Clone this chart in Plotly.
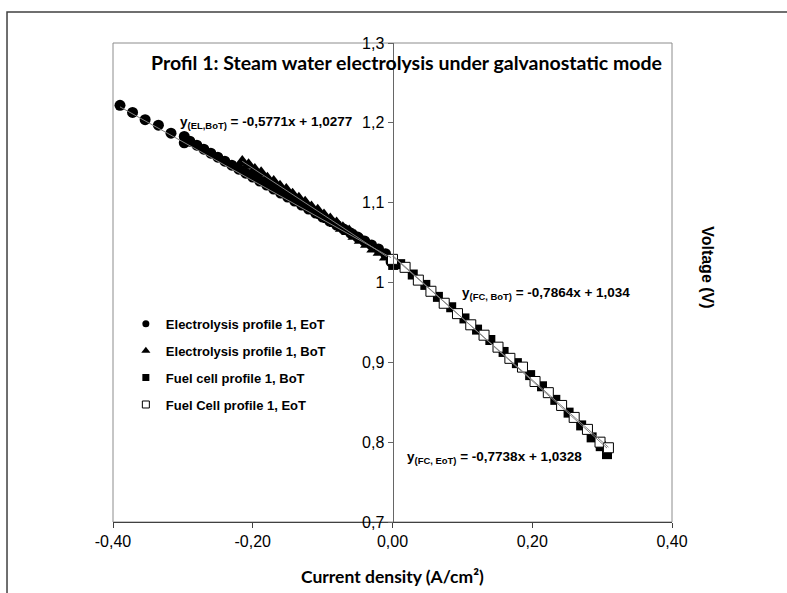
import plotly.graph_objects as go

# ---- measured polarisation data (current density A/cm², voltage V) ----
# Electrolysis profile 1, end of test (circles)
el_eot_x = [-0.390, -0.372, -0.354, -0.335, -0.317, -0.298, -0.298,
            -0.290, -0.280, -0.270, -0.260, -0.250, -0.240, -0.230, -0.220,
            -0.210, -0.200, -0.190, -0.180, -0.170, -0.160, -0.150, -0.140,
            -0.130, -0.120, -0.110, -0.100, -0.090, -0.080, -0.070, -0.060,
            -0.050, -0.040, -0.030, -0.020, -0.010, -0.002]
el_eot_y = [1.222, 1.213, 1.204, 1.197, 1.187, 1.183, 1.175,
            1.177, 1.172, 1.167, 1.162, 1.157, 1.152, 1.147, 1.142,
            1.137, 1.132, 1.127, 1.122, 1.117, 1.112, 1.107, 1.102,
            1.097, 1.092, 1.087, 1.082, 1.077, 1.072, 1.067, 1.062,
            1.057, 1.052, 1.047, 1.042, 1.036, 1.026]

# Electrolysis profile 1, beginning of test (triangles)
el_bot_x = [-0.215, -0.206, -0.197, -0.188, -0.179, -0.170, -0.161, -0.152,
            -0.143, -0.134, -0.125, -0.116, -0.107, -0.098, -0.089, -0.080,
            -0.071, -0.062, -0.053, -0.044, -0.035, -0.026, -0.017, -0.008]
el_bot_y = [1.151, 1.147, 1.141, 1.137, 1.130, 1.126, 1.120, 1.116,
            1.110, 1.105, 1.100, 1.094, 1.090, 1.084, 1.079, 1.074,
            1.068, 1.064, 1.058, 1.053, 1.048, 1.042, 1.038, 1.032]

# Fuel cell profile 1, beginning of test (filled squares)
fc_bot_x = [0.001, 0.011, 0.029, 0.047, 0.065, 0.084, 0.103, 0.121, 0.140,
            0.159, 0.178, 0.197, 0.214, 0.233, 0.252, 0.270, 0.285, 0.298, 0.307]
fc_bot_y = [1.022, 1.023, 1.010, 0.997, 0.982, 0.969, 0.955, 0.941, 0.928,
            0.913, 0.899, 0.884, 0.870, 0.853, 0.837, 0.821, 0.806, 0.795, 0.785]

# Fuel cell profile 1, end of test (open squares)
fc_eot_x = [0.000, 0.018, 0.037, 0.055, 0.074, 0.093, 0.112, 0.131, 0.151,
            0.168, 0.186, 0.204, 0.223, 0.242, 0.260, 0.279, 0.297, 0.309]
fc_eot_y = [1.029, 1.019, 1.003, 0.989, 0.974, 0.961, 0.947, 0.934, 0.919,
            0.905, 0.894, 0.876, 0.862, 0.846, 0.831, 0.816, 0.800, 0.793]

# linear fits (slope, intercept)
el_eot_fit = (-0.4867, 1.0302)
el_bot_fit = (-0.5771, 1.0277)
fc_bot_fit = (-0.7864, 1.034)
fc_eot_fit = (-0.7738, 1.0328)

series_names = ["Electrolysis profile 1, EoT", "Electrolysis profile 1, BoT",
                "Fuel cell profile 1, BoT", "Fuel Cell profile 1, EoT"]

x_tickvals = [-0.4, -0.2, 0.0, 0.2, 0.4]
x_ticktext = ["-0,40", "-0,20", "0,00", "0,20", "0,40"]
y_tickvals = [0.7, 0.8, 0.9, 1.0, 1.1, 1.2, 1.3]
y_ticktext = ["0,7", "0,8", "0,9", "1", "1,1", "1,2", "1,3"]

ARIAL = "Arial"


def fmt(v, nd):
    return f"{v:.{nd}f}".replace(".", ",")


def eq_text(label, fit, nd):
    s, b = fit
    return (f"<b>y<sub>{label}</sub> = {fmt(s, 4)}x + {fmt(b, nd)}</b>")


fig = go.Figure()

styles = [
    (el_eot_x, el_eot_y, dict(symbol="circle", size=11, color="black")),
    (el_bot_x, el_bot_y, dict(symbol="triangle-up", size=14, color="black")),
    (fc_bot_x, fc_bot_y, dict(symbol="square", size=10, color="black")),
    (fc_eot_x, fc_eot_y, dict(symbol="square", size=10, color="white",
                              line=dict(color="black", width=1))),
]
for (xs, ys, mk) in styles:
    fig.add_trace(go.Scatter(x=xs, y=ys, mode="markers", marker=mk,
                             showlegend=False, hoverinfo="skip"))

# trendlines drawn over the markers
for xs, fit in [(el_eot_x, el_eot_fit), (el_bot_x, el_bot_fit),
                (fc_bot_x, fc_bot_fit), (fc_eot_x, fc_eot_fit)]:
    x0, x1 = min(xs), max(xs)
    fig.add_trace(go.Scatter(x=[x0, x1], y=[fit[0] * x0 + fit[1], fit[0] * x1 + fit[1]],
                             mode="lines", line=dict(color="#808080", width=1),
                             showlegend=False, hoverinfo="skip"))

# legend entries with small symbols
legend_marks = [
    dict(symbol="circle", size=7, color="black"),
    dict(symbol="triangle-up", size=8, color="black"),
    dict(symbol="square", size=7, color="black"),
    dict(symbol="square", size=7, color="white", line=dict(color="black", width=1)),
]
for i, (name, mk) in enumerate(zip(series_names, legend_marks)):
    fig.add_trace(go.Scatter(x=[None], y=[None], mode="markers", marker=mk,
                             name=name, legendgroup=f"g{i}", showlegend=True))

eq_font = dict(family=ARIAL, size=13.5, color="black")
fig.add_annotation(x=-0.307, y=1.200, xref="x", yref="y", xanchor="left",
                   yanchor="middle", showarrow=False, font=eq_font,
                   text=eq_text("(EL,BoT)", el_bot_fit, 4))
fig.add_annotation(x=-0.404, y=1.0734, xref="x", yref="y", xanchor="left",
                   yanchor="middle", showarrow=False, font=eq_font,
                   text=eq_text("(EoT)", el_eot_fit, 4))
fig.add_annotation(x=0.0966, y=0.9868, xref="x", yref="y", xanchor="left",
                   yanchor="middle", showarrow=False, font=eq_font,
                   text=eq_text("(FC, BoT)", fc_bot_fit, 3))
fig.add_annotation(x=0.0179, y=0.781, xref="x", yref="y", xanchor="left",
                   yanchor="middle", showarrow=False, font=eq_font,
                   text=eq_text("(FC, EoT)", fc_eot_fit, 4))

# chart title inside the plot area
fig.add_annotation(x=0.525, y=0.960, xref="paper", yref="paper",
                   xanchor="center", yanchor="middle", showarrow=False,
                   text="<b>Profil 1: Steam water electrolysis under galvanostatic mode</b>",
                   font=dict(family="Lato", size=19.5, color="black"))
# axis titles
fig.add_annotation(x=0.5, y=-0.1148, xref="paper", yref="paper",
                   xanchor="center", yanchor="middle", showarrow=False,
                   text="<b>Current density (A/cm²)</b>",
                   font=dict(family="Lato", size=17.5, color="black"))
fig.add_annotation(x=1.0644, y=0.532, xref="paper", yref="paper",
                   xanchor="center", yanchor="middle", showarrow=False,
                   textangle=90, text="<b>Voltage (V)</b>",
                   font=dict(family=ARIAL, size=16, color="black"))

# plot-area frame and outer chart frame
fig.add_shape(type="rect", xref="paper", yref="paper", x0=0, x1=1, y0=0, y1=1,
              line=dict(color="#8c8c8c", width=1), layer="below")
fig.add_shape(type="rect", xref="paper", yref="paper", x0=-0.1896, x1=1.3,
              y0=-0.3, y1=1.0647, line=dict(color="#404040", width=1.5),
              layer="below")

fig.update_layout(
    width=787, height=593,
    margin=dict(l=113, r=115, t=43, b=71),
    paper_bgcolor="white", plot_bgcolor="white",
    font=dict(family=ARIAL, color="black"),
    xaxis=dict(range=[-0.4, 0.4], tickvals=x_tickvals, ticktext=x_ticktext,
               showgrid=False, zeroline=False, showline=True,
               linecolor="#404040", linewidth=1, ticks="outside", ticklen=5,
               tickcolor="#404040", tickfont=dict(family=ARIAL, size=16)),
    yaxis=dict(range=[0.7, 1.3], tickvals=y_tickvals, ticktext=y_ticktext,
               showgrid=False, zeroline=False, showline=True,
               linecolor="#666666", linewidth=1, ticks="outside", ticklen=5,
               tickcolor="#666666", tickfont=dict(family=ARIAL, size=16),
               anchor="free", position=0.5),
    legend=dict(x=0.023, y=0.445, xanchor="left", yanchor="top",
                bgcolor="rgba(0,0,0,0)", traceorder="grouped",
                tracegroupgap=7,
                font=dict(family=ARIAL, size=13,
                          color="black", weight="bold")),
    showlegend=True,
)

fig.write_html("out.html")
